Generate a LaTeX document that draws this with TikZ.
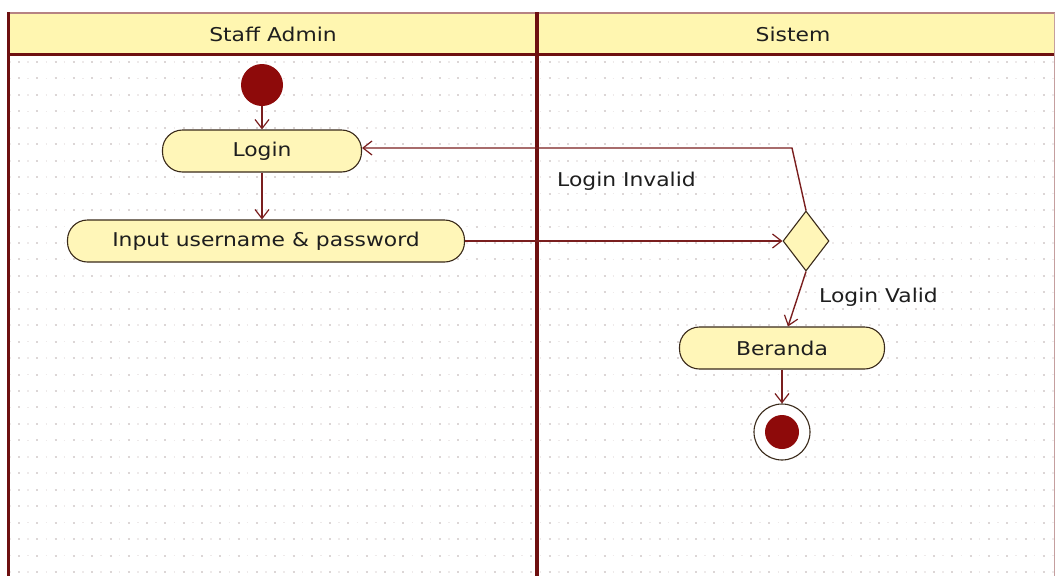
\documentclass[tikz,border=0pt]{standalone}
\usepackage{fontspec}
\setmainfont{DejaVu Sans}[FakeStretch=1.15]
\usetikzlibrary{arrows.meta,shapes.geometric,calc}

\definecolor{laneline}{HTML}{6E1010}
\definecolor{flowcol}{HTML}{7A1E1E}
\definecolor{edgecol}{HTML}{3A2A1A}
\definecolor{actfill}{HTML}{FFF6B8}
\definecolor{headfill}{HTML}{FFF6B0}
\definecolor{dotcol}{HTML}{DCD6D6}
\definecolor{dotfaint}{HTML}{EEEAEA}
\definecolor{darkdot}{HTML}{8E0A0A}
\definecolor{inktext}{HTML}{1E1E1E}

\tikzset{
  every node/.style={font=\fontsize{19}{22}\selectfont, text=inktext},
  activity/.style={draw=edgecol, line width=1.1pt, fill=actfill,
    rounded corners=20pt, minimum height=42pt, inner sep=0pt},
  decision/.style={diamond, draw=edgecol, line width=1.1pt, fill=actfill,
    minimum width=46pt, minimum height=60pt, inner sep=0pt},
  startdot/.style={circle, fill=darkdot, minimum size=42pt, inner sep=0pt},
  finalring/.style={circle, draw=edgecol, line width=1.1pt, fill=white,
    minimum size=56pt, inner sep=0pt},
  flow/.style={draw=flowcol, line width=1.4pt,
    -{Straight Barb[length=9pt,width=14pt,line width=1.2pt]}},
  guard/.style={anchor=west, inner sep=0pt},
  lanetitle/.style={anchor=center, inner sep=0pt}
}

\begin{document}
\begin{tikzpicture}[x=1pt, y=-1pt]
\useasboundingbox (0,0) rectangle (1055,576);
\fill[white] (0,0) rectangle (1055,576);

% dotted drawing grid inside the lanes
\begin{scope}
  \clip (10,56) rectangle (1055,576);
  \foreach \r in {0,...,31} {
    \draw[dotcol, line width=2pt, dash pattern=on 2pt off 16.3pt]
      (-0.3,{62+\r*16.45}) -- (1060,{62+\r*16.45});
    \draw[dotfaint, line width=1.6pt, dash pattern=on 1.6pt off 16.7pt]
      (8.95,{62+\r*16.45}) -- (1060,{62+\r*16.45});
  }
\end{scope}

% swimlane header band
\fill[headfill] (8,13) rectangle (1055,54);
\draw[draw=flowcol!55, line width=1.2pt] (8,13) -- (1055,13);
\draw[draw=laneline, line width=3pt] (8,54) -- (1055,54);
\draw[draw=laneline!40, line width=1pt] (1054,13) -- (1054,576);

% lane borders
\draw[draw=laneline, line width=3pt] (8,12.4) -- (8,576);
\draw[draw=laneline, line width=4pt] (537,12.4) -- (537,576);

\node[lanetitle] (laneA) at (273,34) {Staff Admin};
\node[lanetitle] (laneB) at (793,34) {Sistem};

% activity nodes
\node[startdot] (start) at (262,85) {};
\node[activity, minimum width=199pt] (login) at (262,151) {Login};
\node[activity, minimum width=397pt] (input) at (266,241) {Input username \& password};
\node[decision] (check) at (806,241) {};
\node[activity, minimum width=205pt] (home) at (782,348) {Beranda};
\node[finalring] (stop) at (782,432) {};
\fill[darkdot] (stop.center) circle (17pt);

% transitions
\coordinate (retry) at (792,148);
\draw[flow] (start) -- (login);
\draw[flow] (login.south) -- (login.south |- input.north);
\draw[flow] (input.east) -- (check.west);
\draw[flow] (check.north) -- (retry) -- (retry -| login.east);
\draw[flow] (check.south) -- ([xshift=6pt]home.north);
\draw[flow] (home) -- (stop);

% guard labels
\node[guard] (lblInvalid) at (557,181) {Login Invalid};
\node[guard] (lblValid) at (819,297) {Login Valid};
\end{tikzpicture}
\end{document}
